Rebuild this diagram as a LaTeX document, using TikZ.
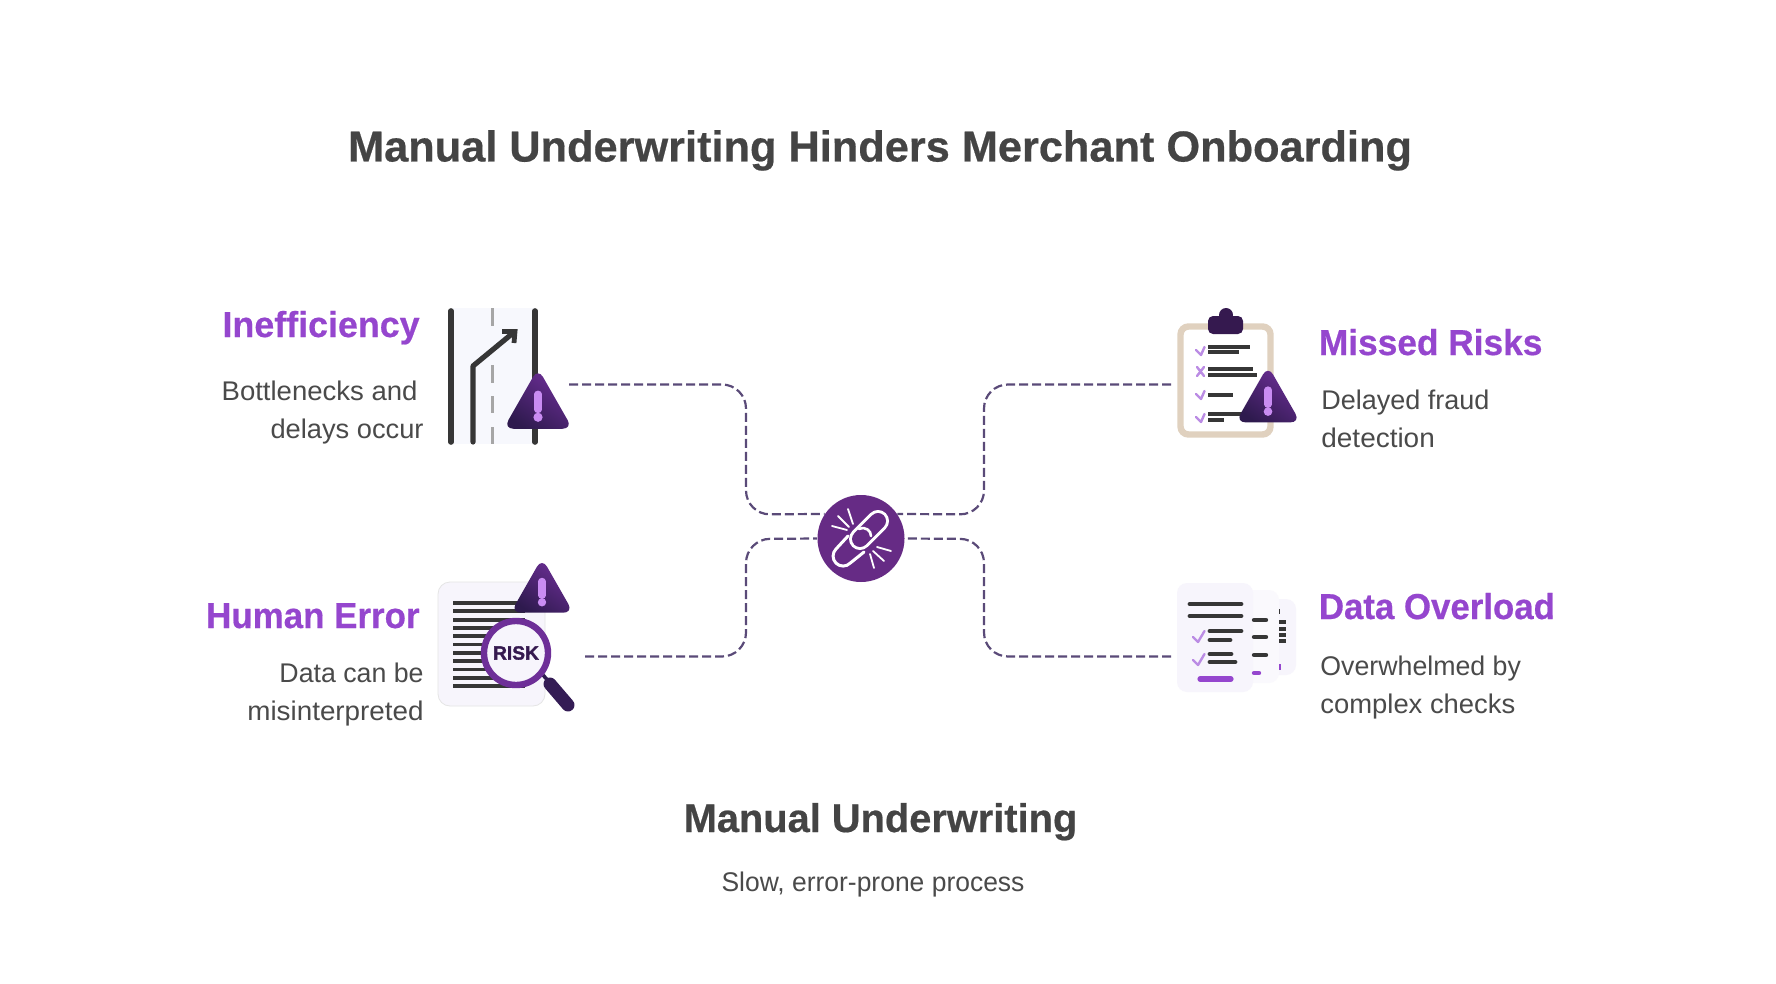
\documentclass[tikz,border=0pt]{standalone}
\usepackage{fontspec}
\setmainfont[BoldFeatures={FakeBold=0.5}]{Liberation Sans}
\newfontfamily\riskfont[BoldFeatures={FakeBold=1.6}]{Liberation Sans}
\usetikzlibrary{calc}
\definecolor{inkdark}{HTML}{444444}
\definecolor{bodyink}{HTML}{4A4A4A}
\definecolor{headviolet}{HTML}{9546CE}
\definecolor{connink}{HTML}{5A4A78}
\definecolor{hubviolet}{HTML}{662B85}
\definecolor{warnA}{HTML}{6E2F98}
\definecolor{warnB}{HTML}{2E1A4E}
\definecolor{excl}{HTML}{C98CF2}
\definecolor{bar}{HTML}{363636}
\definecolor{paleA}{HTML}{F7F8FD}
\definecolor{paleB}{HTML}{F7F5FC}
\definecolor{tick}{HTML}{BB8CE4}
\definecolor{tan}{HTML}{E0D1BF}
\definecolor{clipviolet}{HTML}{35194F}
\tikzset{
  titletext/.style={font=\fontsize{21.66}{26}\selectfont\bfseries,text=inkdark,inner sep=0pt},
  headtext/.style={font=\fontsize{18}{22}\selectfont\bfseries,text=headviolet,inner sep=0pt},
  subhead/.style={font=\fontsize{20}{24}\selectfont\bfseries,text=inkdark,inner sep=0pt},
  bodytext/.style={font=\fontsize{13.5}{16}\selectfont,text=bodyink,inner sep=0pt},
  conn/.style={draw=connink,line width=1.1pt,dash pattern=on 4.5pt off 2pt,rounded corners=12pt},
  blackbar/.style={draw=bar,line cap=round,line width=2.8pt},
  doc/.style={draw=bar,line cap=round,line width=1.9pt},
  check/.style={draw=tick,line width=1.2pt,line cap=round,line join=round},
  linkline/.style={draw=white,line width=1.5pt,line cap=round},
}
\newcommand{\warnicon}[3]{%
  \begin{scope}[shift={(#1,#2)},scale=#3]
    \shade[left color=warnA,right color=warnB,shading angle=-35,rounded corners=5pt]
      (-36,56) -- (36,56) -- (0,-7) -- cycle;
    \draw[excl,line width=3.6pt,line cap=round] (0,20) -- (0,36);
    \fill[excl] (0,44) circle (4.8);
  \end{scope}}
\begin{document}
\begin{tikzpicture}[x=0.5pt,y=-0.5pt]
\useasboundingbox (0,0) rectangle (1776,984);
\fill[white] (0,0) rectangle (1776,984);

% text
\node[titletext,anchor=base] (title) at (880,161.5) {Manual Underwriting Hinders Merchant Onboarding};
\node[headtext,anchor=base east] (h1) at (420,337) {\scalebox{.995}[1]{Inefficiency}};
\node[bodytext,anchor=base east] (b1a) at (418,400) {\scalebox{1.02}[1]{Bottlenecks and}};
\node[bodytext,anchor=base east] (b1b) at (424,438.2) {\scalebox{1.01}[1]{delays occur}};
\node[headtext,anchor=base west] (h2) at (1318.5,355) {\scalebox{.98}[1]{Missed Risks}};
\node[bodytext,anchor=base west] (b2a) at (1321,409) {Delayed fraud};
\node[bodytext,anchor=base west] (b2b) at (1321,447.2) {\scalebox{1.035}[1]{detection}};
\node[headtext,anchor=base east] (h3) at (420,628) {\scalebox{.97}[1]{Human Error}};
\node[bodytext,anchor=base east] (b3a) at (424,682) {\scalebox{.99}[1]{Data can be}};
\node[bodytext,anchor=base east] (b3b) at (424,720.5) {\scalebox{1.03}[1]{misinterpreted}};
\node[headtext,anchor=base west] (h4) at (1318.5,619) {\scalebox{.967}[1]{Data Overload}};
\node[bodytext,anchor=base west] (b4a) at (1320,675) {\scalebox{.99}[1]{Overwhelmed by}};
\node[bodytext,anchor=base west] (b4b) at (1320,713.5) {\scalebox{1.015}[1]{complex checks}};
\node[subhead,anchor=base] (foot) at (880.5,832) {\scalebox{.995}[1]{Manual Underwriting}};
\node[bodytext,anchor=base] (footsub) at (873,891.7) {\scalebox{.98}[1]{Slow, error-prone process}};

% connectors
\node[circle,fill=hubviolet,inner sep=0pt,minimum size=43.5pt] (hub) at (861,538.5) {};
\coordinate (portA) at (569,384.5);
\coordinate (portB) at (1171,384.5);
\coordinate (portC) at (585,656.5);
\coordinate (portD) at (1171,656.5);
\draw[conn] (portA) -- (746,384.5) -- (746,514.5) -- (hub.146);
\draw[conn] (portC) -- (746,656.5) -- (746,539) -- (hub.180);
\draw[conn] (portB) -- (984,384.5) -- (984,514.5) -- (hub.34);
\draw[conn] (portD) -- (984,656.5) -- (984,539) -- (hub.0);

% hub icon
\begin{scope}
  \draw[linkline,line join=round] (848,536) -- (836,549) arc[start angle=225,end angle=45,radius=10] -- (864,552);
  \draw[white,line width=11pt,line cap=round] (860,539) -- (878,521);
  \draw[hubviolet,line width=8pt,line cap=round] (860,539) -- (878,521);
  \draw[linkline,line width=1.3pt] (859,529) .. controls (866,526) and (871,531) .. (871,536);
  \draw[linkline,line width=.9pt] (832,526) -- (847,530);
  \draw[linkline,line width=.9pt] (838,516) -- (849,527);
  \draw[linkline,line width=.9pt] (848,509) -- (853,524);
  \draw[linkline,line width=.9pt] (877,547) -- (891,551);
  \draw[linkline,line width=.9pt] (873,551) -- (884,561);
  \draw[linkline,line width=.9pt] (870,554) -- (874,568);
\end{scope}

% icon: road
\fill[paleA] (451,308) rectangle (535,444);
\draw[blackbar] (451,311) -- (451,442);
\draw[blackbar] (535,311) -- (535,442);
\draw[blackbar,line width=2.6pt,line join=round] (473,442) -- (473,366) -- (513,333);
\draw[blackbar,line width=2.4pt,line join=miter,line cap=butt] (502,331.5) -- (515,331.5) -- (514,343);
\draw[draw=gray!70,line width=1.5pt] (492,308) -- (492,326) (492,365) -- (492,383) (492,396) -- (492,413) (492,427) -- (492,444);
\warnicon{538}{375}{0.96}

% icon: risk report
\draw[draw=black!10,fill=paleB,rounded corners=6pt] (438,582) rectangle (545,706);
\foreach \yy in {603,611.3,619.6,627.9,636.2,644.5,652.8,661.1,669.4,677.7,686}
  \draw[draw=bar,line width=1.9pt] (453,\yy) -- (525,\yy);
\warnicon{542}{564}{0.87}
\draw[draw=warnB,line width=1.8pt] (543,675) -- (550,683);
\draw[draw=warnB!90!warnA,line width=6.5pt,line cap=round] (550,684) -- (568,705);
\node[circle,draw=warnA,fill=paleB,line width=3.2pt,inner sep=0pt,minimum size=32pt,
      font=\riskfont\fontsize{9.6}{10}\selectfont\bfseries,text=clipviolet] (risk) at (516,653) {RISK};

% icon: clipboard
\draw[draw=tan,fill=white,line width=3.2pt,rounded corners=4pt] (1180.5,326.5) rectangle (1270.5,434.5);
\fill[clipviolet] (1226,315) circle (7);
\fill[clipviolet,rounded corners=2.5pt] (1208,316) rectangle (1243,334);
\draw[check] (1196,350) -- (1201,355) -- (1204.5,347);
\draw[check] (1197,367) -- (1204,376) (1204,367) -- (1197,376);
\draw[check] (1196,394) -- (1201,399) -- (1204.5,391);
\draw[check] (1196,417) -- (1201,422) -- (1204.5,414);
\foreach \yy/\xx in {347/1250,352/1239,369/1253,375/1257,395/1233,414/1250,420/1224}
  \draw[draw=bar,line width=1.9pt] (1208,\yy) -- (\xx,\yy);
\warnicon{1268}{372}{0.9}

% icon: documents
\fill[paleB,rounded corners=5pt] (1260,599) rectangle (1296,675);
\fill[paleB!60!white,rounded corners=5pt] (1240,590) rectangle (1279,683);
\fill[paleB,rounded corners=5pt] (1177,583) rectangle (1253,692);
\foreach \yy/\xa/\xb in {604/1190/1241,616/1190/1241,631/1210/1241,640/1210/1230,654/1210/1231,662/1210/1235}
  \draw[doc,line width=2.4pt] (\xa,\yy) -- (\xb,\yy);
\draw[check] (1193,637) -- (1198,642) -- (1204.5,631);
\draw[check] (1193,660) -- (1198,665) -- (1204.5,654);
\draw[draw=headviolet,line width=2.6pt,line cap=round] (1200,679) -- (1231,679);
\foreach \yy in {620,637,655}
  \draw[doc,line width=2.2pt] (1254,\yy) -- (1266,\yy);
\draw[draw=headviolet,line width=2.2pt,line cap=round] (1254,673) -- (1259,673);
\foreach \yy in {622,629,635,641}
  \draw[draw=bar,line width=1.8pt] (1279,\yy) -- (1286,\yy);
\draw[draw=bar,line width=.4pt] (1279,609) -- (1279,614);
\draw[draw=headviolet,line width=1pt] (1279.5,664) -- (1279.5,670);
\end{tikzpicture}
\end{document}
